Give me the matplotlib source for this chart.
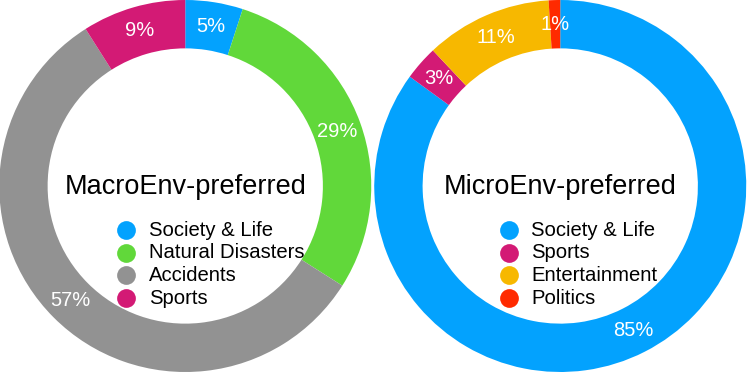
import matplotlib
matplotlib.use('Agg')
import matplotlib.pyplot as plt

plt.rcParams['font.family'] = ['Liberation Sans', 'DejaVu Sans']

macro_labels = ['Society & Life', 'Natural Disasters', 'Accidents', 'Sports']
macro_values = [5, 29, 57, 9]
macro_colors = ['#03A2FE', '#61D83A', '#929292', '#D31A75']

micro_labels = ['Society & Life', 'Sports', 'Entertainment', 'Politics']
micro_values = [85, 3, 11, 1]
micro_colors = ['#03A2FE', '#D31A75', '#F7B800', '#FF2A00']

fig = plt.figure(figsize=(7.47, 3.72), dpi=100)


def donut(ax, values, colors, labels, title, leg_x):
    ax.pie(values, colors=colors, startangle=90, counterclock=False,
           radius=1.0, wedgeprops=dict(width=0.26, linewidth=0),
           autopct=lambda p: f'{p:.0f}%', pctdistance=0.87,
           textprops=dict(color='white', fontsize=14.5))
    ax.set_xlim(-1.0, 1.0)
    ax.set_ylim(-1.0, 1.0)
    ax.set_aspect('equal')
    ax.axis('off')
    ax.text(0, -0.045, title, ha='center', va='baseline', fontsize=19.5, color='black')
    for i, (lab, col) in enumerate(zip(labels, colors)):
        y = -0.237 - i * 0.122
        ax.plot(leg_x, y, 'o', ms=13.5, color=col, mec='none')
        ax.text(leg_x + 0.12, y, lab, ha='left', va='center', fontsize=14.6, color='black')


ax1 = fig.add_axes([-0.002, 0, 0.5, 1])
donut(ax1, macro_values, macro_colors, macro_labels, 'MacroEnv-preferred', -0.316)

ax2 = fig.add_axes([0.5, 0, 0.5, 1])
donut(ax2, micro_values, micro_colors, micro_labels, 'MicroEnv-preferred', -0.276)

fig.savefig('out.png', dpi=100)
